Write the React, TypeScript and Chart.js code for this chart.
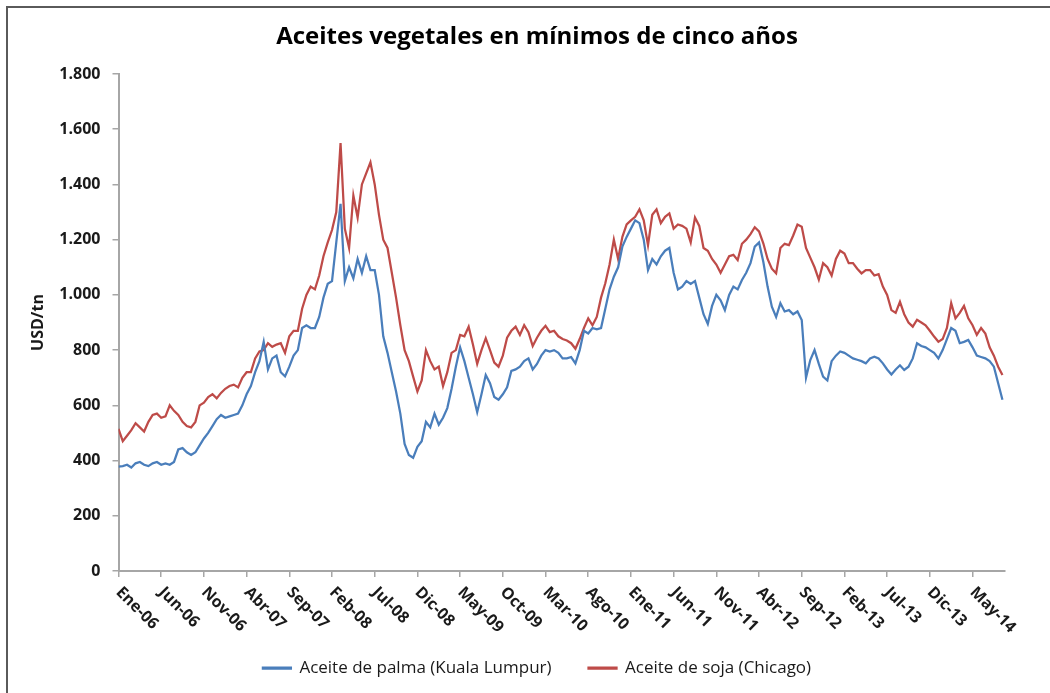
import React, { useEffect, useRef } from 'react';
import { Chart, registerables, LinearScale } from 'chart.js';

Chart.register(...registerables);

// x tick labels, one every 5 months starting Jan 2006
const tickLabels = [
  'Ene-06', 'Jun-06', 'Nov-06', 'Abr-07', 'Sep-07', 'Feb-08', 'Jul-08', 'Dic-08', 'May-09', 'Oct-09',
  'Mar-10', 'Ago-10', 'Ene-11', 'Jun-11', 'Nov-11', 'Abr-12', 'Sep-12', 'Feb-13', 'Jul-13', 'Dic-13', 'May-14',
];

const seriesNames = ['Aceite de palma (Kuala Lumpur)', 'Aceite de soja (Chicago)'];

// half-monthly readings (USD/tn) from Jan 2006
const palmaValues = [
  378, 380, 385, 375, 390, 395, 385, 380, 390, 395,
  385, 390, 385, 395, 440, 445, 430, 420, 430, 455,
  480, 500, 525, 550, 565, 555, 560, 565, 570, 600,
  640, 670, 720, 760, 830, 730, 770, 780, 720, 705,
  740, 780, 800, 880, 890, 880, 880, 920, 990, 1040,
  1050, 1190, 1330, 1050, 1100, 1060, 1130, 1080, 1140, 1090,
  1090, 1000, 850, 790, 720, 650, 570, 460, 420, 410,
  450, 470, 540, 520, 570, 530, 555, 590, 660, 740,
  810, 760, 700, 640, 575, 640, 710, 680, 630, 620,
  640, 665, 725, 730, 740, 760, 770, 730, 750, 780,
  800, 795, 800, 790, 770, 770, 775, 752, 800, 870,
  860, 880, 875, 880, 950, 1020, 1066, 1100, 1175, 1210,
  1240, 1270, 1260, 1200, 1090, 1130, 1110, 1140, 1160, 1170,
  1080, 1020, 1030, 1050, 1040, 1050, 990, 930, 895, 960,
  1000, 980, 945, 1000, 1030, 1020, 1054, 1080, 1115, 1175,
  1190, 1120, 1030, 957, 920, 970, 940, 945, 930, 940,
  909, 700, 764, 800, 750, 704, 690, 760, 780, 795,
  790, 780, 770, 765, 760, 752, 770, 776, 770, 752,
  730, 712, 730, 745, 728, 740, 770, 825, 815, 810,
  800, 790, 770, 800, 840, 880, 870, 825, 830, 837,
  810, 780, 775, 770, 760, 740, 680, 620,
];

const sojaValues = [
  515, 470, 490, 510, 535, 520, 505, 540, 565, 570,
  555, 560, 600, 580, 565, 540, 525, 520, 540, 600,
  610, 630, 640, 625, 645, 660, 670, 675, 665, 700,
  720, 720, 770, 795, 800, 825, 812, 820, 825, 790,
  850, 870, 870, 950, 1000, 1030, 1020, 1070, 1140, 1190,
  1235, 1300, 1550, 1240, 1170, 1360, 1280, 1400, 1440, 1480,
  1400, 1290, 1200, 1170, 1080, 990, 890, 800, 760, 704,
  650, 690, 800, 760, 730, 740, 670, 720, 790, 800,
  855, 850, 885, 820, 750, 800, 843, 800, 755, 740,
  780, 845, 870, 885, 855, 890, 865, 815, 845, 870,
  888, 865, 870, 850, 840, 835, 825, 805, 840, 880,
  915, 890, 920, 990, 1042, 1110, 1200, 1130, 1210, 1255,
  1270, 1283, 1310, 1270, 1180, 1290, 1310, 1260, 1283, 1295,
  1240, 1255, 1250, 1240, 1190, 1280, 1250, 1170, 1160, 1130,
  1110, 1080, 1110, 1140, 1145, 1126, 1185, 1200, 1220, 1245,
  1230, 1187, 1130, 1095, 1078, 1170, 1185, 1180, 1215, 1255,
  1247, 1170, 1135, 1100, 1055, 1115, 1100, 1070, 1130, 1160,
  1150, 1115, 1115, 1095, 1078, 1090, 1090, 1070, 1075, 1030,
  1000, 945, 935, 975, 930, 900, 885, 910, 900, 890,
  870, 849, 830, 840, 880, 970, 915, 935, 960, 915,
  890, 855, 880, 860, 810, 780, 740, 710,
];

const FONT = "'Open Sans', 'DejaVu Sans', sans-serif";
const TEXT = '#1a1a1a';
const AXIS = '#a6a6a6';

class DiagonalLinearScale extends LinearScale {
  static id = 'diagonalLinear';
  static defaults = LinearScale.defaults;
  _getXAxisLabelAlignment() {
    return 'left';
  }
  _computeLabelArea() {
    return undefined;
  }
}
Chart.register(DiagonalLinearScale);

const thousands = (v: number) => String(v).replace(/\B(?=(\d{3})+(?!\d))/g, '.');

export default function App() {
  const ref = useRef<HTMLCanvasElement | null>(null);

  useEffect(() => {
    if (!ref.current) return;
    const toPoints = (vals: number[]) => vals.map((v, i) => ({ x: i / 2, y: v }));
    const chart = new Chart(ref.current, {
      type: 'line',
      data: {
        datasets: [
          {
            label: seriesNames[0],
            data: toPoints(palmaValues),
            borderColor: '#4a7ebb',
            backgroundColor: '#4a7ebb',
            borderWidth: 2.25,
            pointRadius: 0,
            tension: 0,
            xAxisID: 'x',
            yAxisID: 'y',
          },
          {
            label: seriesNames[1],
            data: toPoints(sojaValues),
            borderColor: '#be4b48',
            backgroundColor: '#be4b48',
            borderWidth: 2.25,
            pointRadius: 0,
            tension: 0,
            xAxisID: 'x',
            yAxisID: 'y',
          },
        ],
      },
      options: {
        responsive: false,
        animation: false,
        devicePixelRatio: 1,
        layout: { padding: { left: 0, right: 0, top: 0, bottom: 6.5 } },
        plugins: {
          title: {
            display: true,
            text: 'Aceites vegetales en mínimos de cinco años',
            color: '#000',
            font: { family: FONT, size: 24, weight: 'bold' },
            padding: { top: 22.6, bottom: 22.6 },
          },
          legend: {
            position: 'bottom',
            labels: {
              boxWidth: 28,
              boxHeight: 1,
              padding: 37,
              color: TEXT,
              font: { family: FONT, size: 17 },
            },
          },
          tooltip: { enabled: false },
        },
        scales: {
          x: {
            type: 'diagonalLinear' as any,
            min: 0,
            max: 103.8,
            afterBuildTicks: (s: any) => {
              s.ticks = tickLabels.map((_, k) => ({ value: k * 5 }));
            },
            afterFit: (s: any) => {
              s.height = 51.5;
            },
            grid: { drawOnChartArea: false, drawTicks: true, tickLength: 6, color: AXIS, lineWidth: 1.5 },
            border: { display: true, color: AXIS, width: 2 },
            ticks: {
              autoSkip: false,
              minRotation: -45,
              maxRotation: -45,
              padding: 6,
              color: TEXT,
              font: { family: FONT, size: 16, weight: 'bold' },
              callback: (_v: any, i: number) => tickLabels[i] ?? '',
            },
          },
          y: {
            min: 0,
            max: 1800,
            afterFit: (s: any) => {
              s.width = 118.5;
            },
            grid: { drawOnChartArea: false, drawTicks: true, tickLength: 6, color: AXIS, lineWidth: 1.5 },
            border: { display: true, color: AXIS, width: 2 },
            ticks: {
              stepSize: 200,
              padding: 12,
              color: TEXT,
              font: { family: FONT, size: 16, weight: 'bold' },
              callback: (v: any) => thousands(Number(v)),
            },
            title: {
              display: true,
              text: 'USD/tn',
              color: TEXT,
              font: { family: FONT, size: 16, weight: 'bold' },
              padding: { top: 28.4, bottom: 0 },
            },
          },
          pad: {
            type: 'linear',
            position: 'right',
            display: true,
            grid: { display: false },
            ticks: { display: false },
            border: { display: false },
            afterFit: (s: any) => {
              s.width = 69;
            },
          },
        },
      },
    });
    return () => chart.destroy();
  }, []);

  return (
    <div style={{ position: 'fixed', left: 0, top: 0, width: 1050, height: 693, overflow: 'hidden', background: '#fff' }}>
      <canvas ref={ref} width={1074} height={693} style={{ position: 'absolute', left: 0, top: 0 }} />
      <div
        style={{
          position: 'absolute',
          left: 6,
          top: 6,
          width: 1200,
          height: 800,
          borderLeft: '2px solid #5a5a5a',
          borderTop: '2px solid #5a5a5a',
          pointerEvents: 'none',
        }}
      />
    </div>
  );
}
